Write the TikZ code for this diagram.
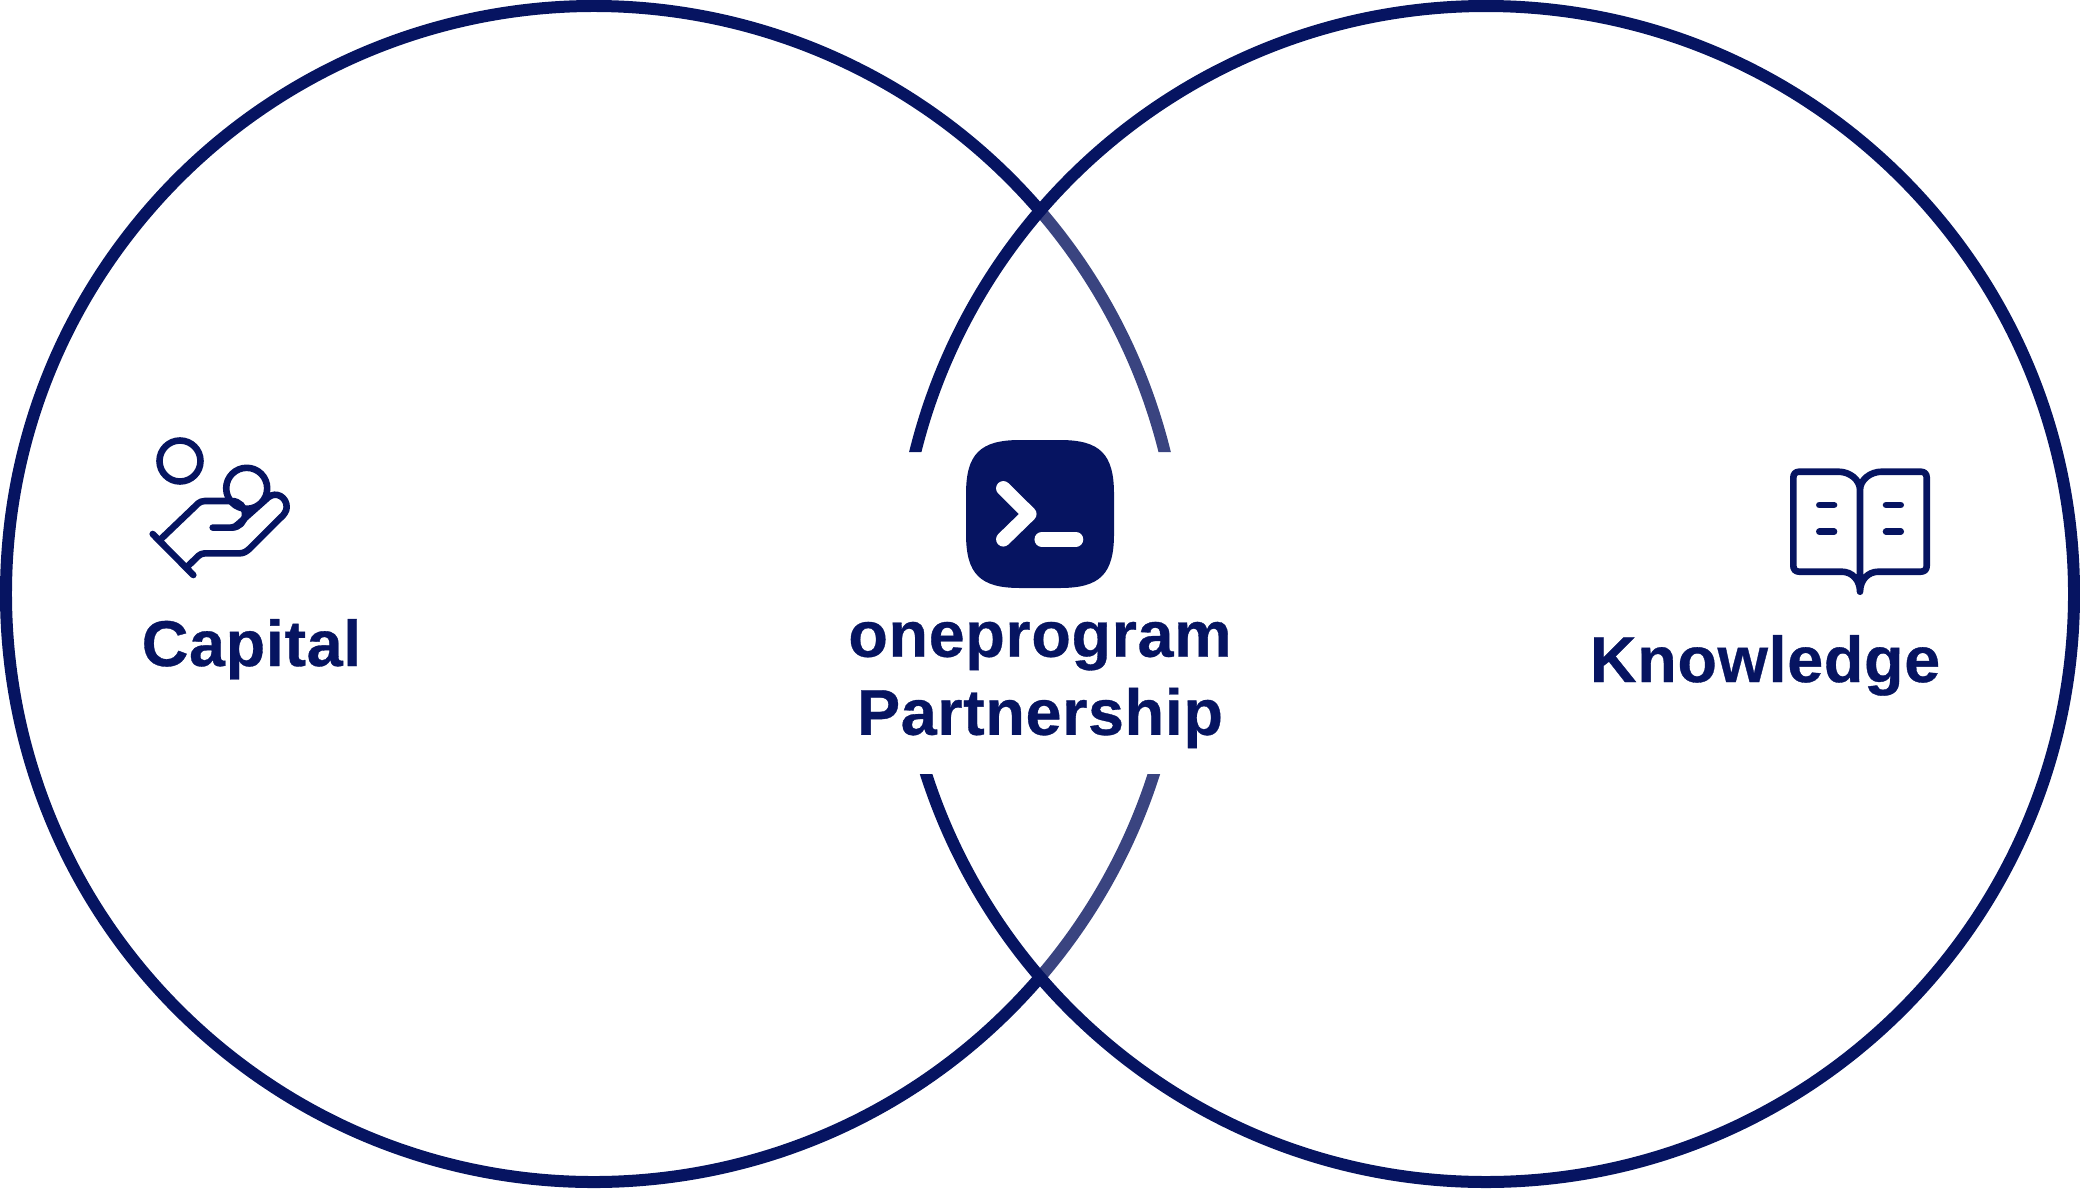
\documentclass[tikz,border=0pt]{standalone}
\usepackage{fontspec}
\usetikzlibrary{calc}
\setmainfont[BoldFeatures={FakeBold=0.5,LetterSpace=1.0}]{Liberation Sans}
\definecolor{navy}{HTML}{061461}
\definecolor{navysoft}{HTML}{3A4480}
\tikzset{
  ring/.style={draw=navy, line width=0.12cm},
  ringsoft/.style={draw=navysoft, line width=0.12cm},
  icon/.style={draw=navy, line width=0.066cm, line cap=round, line join=round},
  glyph/.style={draw=white, line width=0.145cm, line cap=round, line join=round},
  lab/.style={text=navy, font=\fontsize{18.4}{22.2}\selectfont\bfseries, inner sep=0pt, align=center},
}
\begin{document}
\begin{tikzpicture}[x=0.01cm,y=-0.01cm]
  \useasboundingbox (0,0) rectangle (2080,1188);
  \coordinate (L) at (594,594);
  \coordinate (R) at (1486,594);
  \coordinate (M) at (1040,514);
  \def\rC{588}
  \begin{scope}
    \clip (0,0) rectangle (2080,452) (0,774) rectangle (2080,1188)
      (0,452) rectangle (880,774) (1200,452) rectangle (2080,774);
    \draw[ringsoft] (L) ++(-41:\rC) arc (-41:41:\rC);
    \draw[ring] (L) ++(41:\rC) arc (41:319:\rC);
    \draw[ring] (R) circle (\rC);
  \end{scope}

  \fill[navy] ($(M)+(-20,-74)$) -- ($(M)+(20,-74)$)
    .. controls ($(M)+(60,-74)$) and ($(M)+(74,-60)$) .. ($(M)+(74,-20)$)
    -- ($(M)+(74,20)$)
    .. controls ($(M)+(74,60)$) and ($(M)+(60,74)$) .. ($(M)+(20,74)$)
    -- ($(M)+(-20,74)$)
    .. controls ($(M)+(-60,74)$) and ($(M)+(-74,60)$) .. ($(M)+(-74,20)$)
    -- ($(M)+(-74,-20)$)
    .. controls ($(M)+(-74,-60)$) and ($(M)+(-60,-74)$) .. cycle;
  \draw[glyph] (1003.3,488.3) -- (1029.3,514) -- (1003.3,539.3);
  \draw[glyph] (1041.7,539.3) -- (1076,539.3);

  \draw[icon] (180,461) circle (20.5);
  \draw[icon] (246.7,488.3) circle (20.5);
  \draw[icon] (152.7,534) -- (193.3,575);
  \draw[icon] (161.7,538.3) -- (198.3,503.3) .. controls (200,502) and (202,501) .. (205,501)
    -- (231.7,501) arc (-90:90:13.3) -- (212.7,527.6);
  \draw[icon] (231.7,527.6) .. controls (234,527.6) and (236,526) .. (238.3,524)
    -- (268.3,497.3) .. controls (276,491) and (286.7,497) .. (286.7,507)
    .. controls (286.7,511) and (284,515) .. (280,518.3)
    -- (250,548.3) .. controls (247,551) and (244,553.3) .. (240,553.3)
    -- (205,553.3) .. controls (202,553.3) and (200,554.5) .. (198.3,556) -- (188.3,565.7);

  \draw[icon] (1860,490) .. controls (1860,480) and (1850,471.7) .. (1838.3,471.7)
    -- (1799.3,471.7) .. controls (1795.5,471.7) and (1793.3,473.9) .. (1793.3,477.7)
    -- (1793.3,565.7) .. controls (1793.3,569.5) and (1795.5,571.7) .. (1799.3,571.7)
    -- (1841.7,571.7) .. controls (1852,571.7) and (1860,580) .. (1860,591.7) -- (1860,490)
    .. controls (1860,480) and (1870,471.7) .. (1881.7,471.7)
    -- (1920.7,471.7) .. controls (1924.5,471.7) and (1926.7,473.9) .. (1926.7,477.7)
    -- (1926.7,565.7) .. controls (1926.7,569.5) and (1924.5,571.7) .. (1920.7,571.7)
    -- (1878.3,571.7) .. controls (1868,571.7) and (1860,580) .. (1860,591.7);
  \foreach \yy in {505,531.7} {
    \draw[icon] (1819.3,\yy) -- (1834,\yy);
    \draw[icon] (1886,\yy) -- (1900.7,\yy);
  }

  \node[lab,anchor=base] (capital) at (251.5,666) {Capital};
  \node[lab,anchor=base] (knowledge) at (1765,682) {Knowledge};
  \node[lab] (partner) at (1040,685) {oneprogram\\Partnership};
\end{tikzpicture}
\end{document}
